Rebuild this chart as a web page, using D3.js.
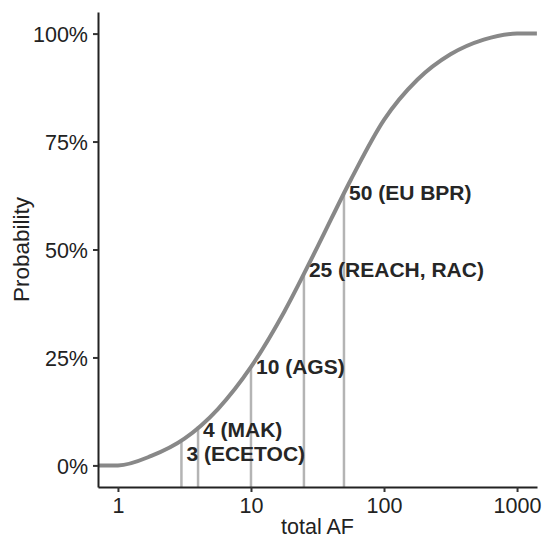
<!DOCTYPE html>
<html lang="en">
<head>
<meta charset="UTF-8">
<title>Probability vs total AF</title>
<script src="https://d3js.org/d3.v7.min.js"></script>
<style>
  body { margin: 0; background: #fff; }
  svg { display: block; font-family: "Liberation Sans", Arial, sans-serif; }
  .tick text { fill: #222; font-size: 21.5px; }
</style>
</head>
<body>
<svg id="chart" width="543" height="539"></svg>
<script>
// curve: total AF vs cumulative probability
const curveAF   = [0.71, 1, 1.78, 3.16, 5.62, 10, 17.8, 31.6, 56.2, 100, 178, 316, 562, 1000, 1410];
const curveProb = [0, 0, 0.022, 0.062, 0.13, 0.228, 0.356, 0.506, 0.661, 0.8, 0.893, 0.952, 0.986, 1, 1];

// reference factors and their labels
const refAF     = [3, 4, 10, 25, 50];
const refProb   = [0.055, 0.09, 0.228, 0.445, 0.634];
const refLabels = ["3 (ECETOC)", "4 (MAK)", "10 (AGS)", "25 (REACH, RAC)", "50 (EU BPR)"];
const labelProb = [0.027, 0.083, 0.228, 0.454, 0.632];

const xTicks = [1, 10, 100, 1000];
const yTicks = [0, 0.25, 0.5, 0.75, 1];

const svg = d3.select("#chart");
const margin = {top: 12, right: 6, bottom: 52, left: 98};
const W = +svg.attr("width") - margin.left - margin.right;
const H = +svg.attr("height") - margin.top - margin.bottom;
const g = svg.append("g").attr("transform", `translate(${margin.left},${margin.top})`);

const x = d3.scaleLog().domain([Math.pow(10, -0.15), Math.pow(10, 3.15)]).range([0, W]);
const y = d3.scaleLinear().domain([-0.05, 1.05]).range([H, 0]);

// vertical reference lines
g.selectAll(".ref")
  .data(refAF)
  .join("line")
  .attr("x1", d => x(d)).attr("x2", d => x(d))
  .attr("y1", H)
  .attr("y2", (d, i) => y(refProb[i]))
  .attr("stroke", "#b4b4b4")
  .attr("stroke-width", 2.5);

// curve
const pts = curveAF.map((d, i) => [d, curveProb[i]]);
g.append("path")
  .datum(pts)
  .attr("fill", "none")
  .attr("stroke", "#888888")
  .attr("stroke-width", 4)
  .attr("d", d3.line().x(d => x(d[0])).y(d => y(d[1])).curve(d3.curveMonotoneX));

// labels
g.selectAll(".lab")
  .data(refLabels)
  .join("text")
  .attr("x", (d, i) => x(refAF[i]) + 5)
  .attr("y", (d, i) => y(labelProb[i]))
  .attr("dy", "0.35em")
  .attr("font-size", 21)
  .attr("font-weight", "bold")
  .attr("fill", "#262626")
  .text(d => d);

// axes
const xAxis = g.append("g")
  .attr("transform", `translate(0,${H})`)
  .call(d3.axisBottom(x).tickValues(xTicks).tickFormat(d3.format("d")).tickSize(5).tickPadding(6).tickSizeOuter(0));
const yAxis = g.append("g")
  .call(d3.axisLeft(y).tickValues(yTicks).tickFormat(d3.format(".0%")).tickSize(5).tickPadding(5).tickSizeOuter(0));

[xAxis, yAxis].forEach(a => {
  a.select(".domain").attr("stroke", "#222").attr("stroke-width", 2);
  a.selectAll(".tick line").attr("stroke", "#333").attr("stroke-width", 2);
});
yAxis.selectAll(".tick text").attr("dy", "0.36em");

// axis titles
svg.append("text")
  .attr("x", margin.left + W / 2)
  .attr("y", 534)
  .attr("text-anchor", "middle")
  .attr("font-size", 21.5)
  .attr("fill", "#222")
  .text("total AF");

svg.append("text")
  .attr("transform", `translate(29,${margin.top + H / 2}) rotate(-90)`)
  .attr("text-anchor", "middle")
  .attr("font-size", 22.5)
  .attr("fill", "#222")
  .text("Probability");
</script>
</body>
</html>
